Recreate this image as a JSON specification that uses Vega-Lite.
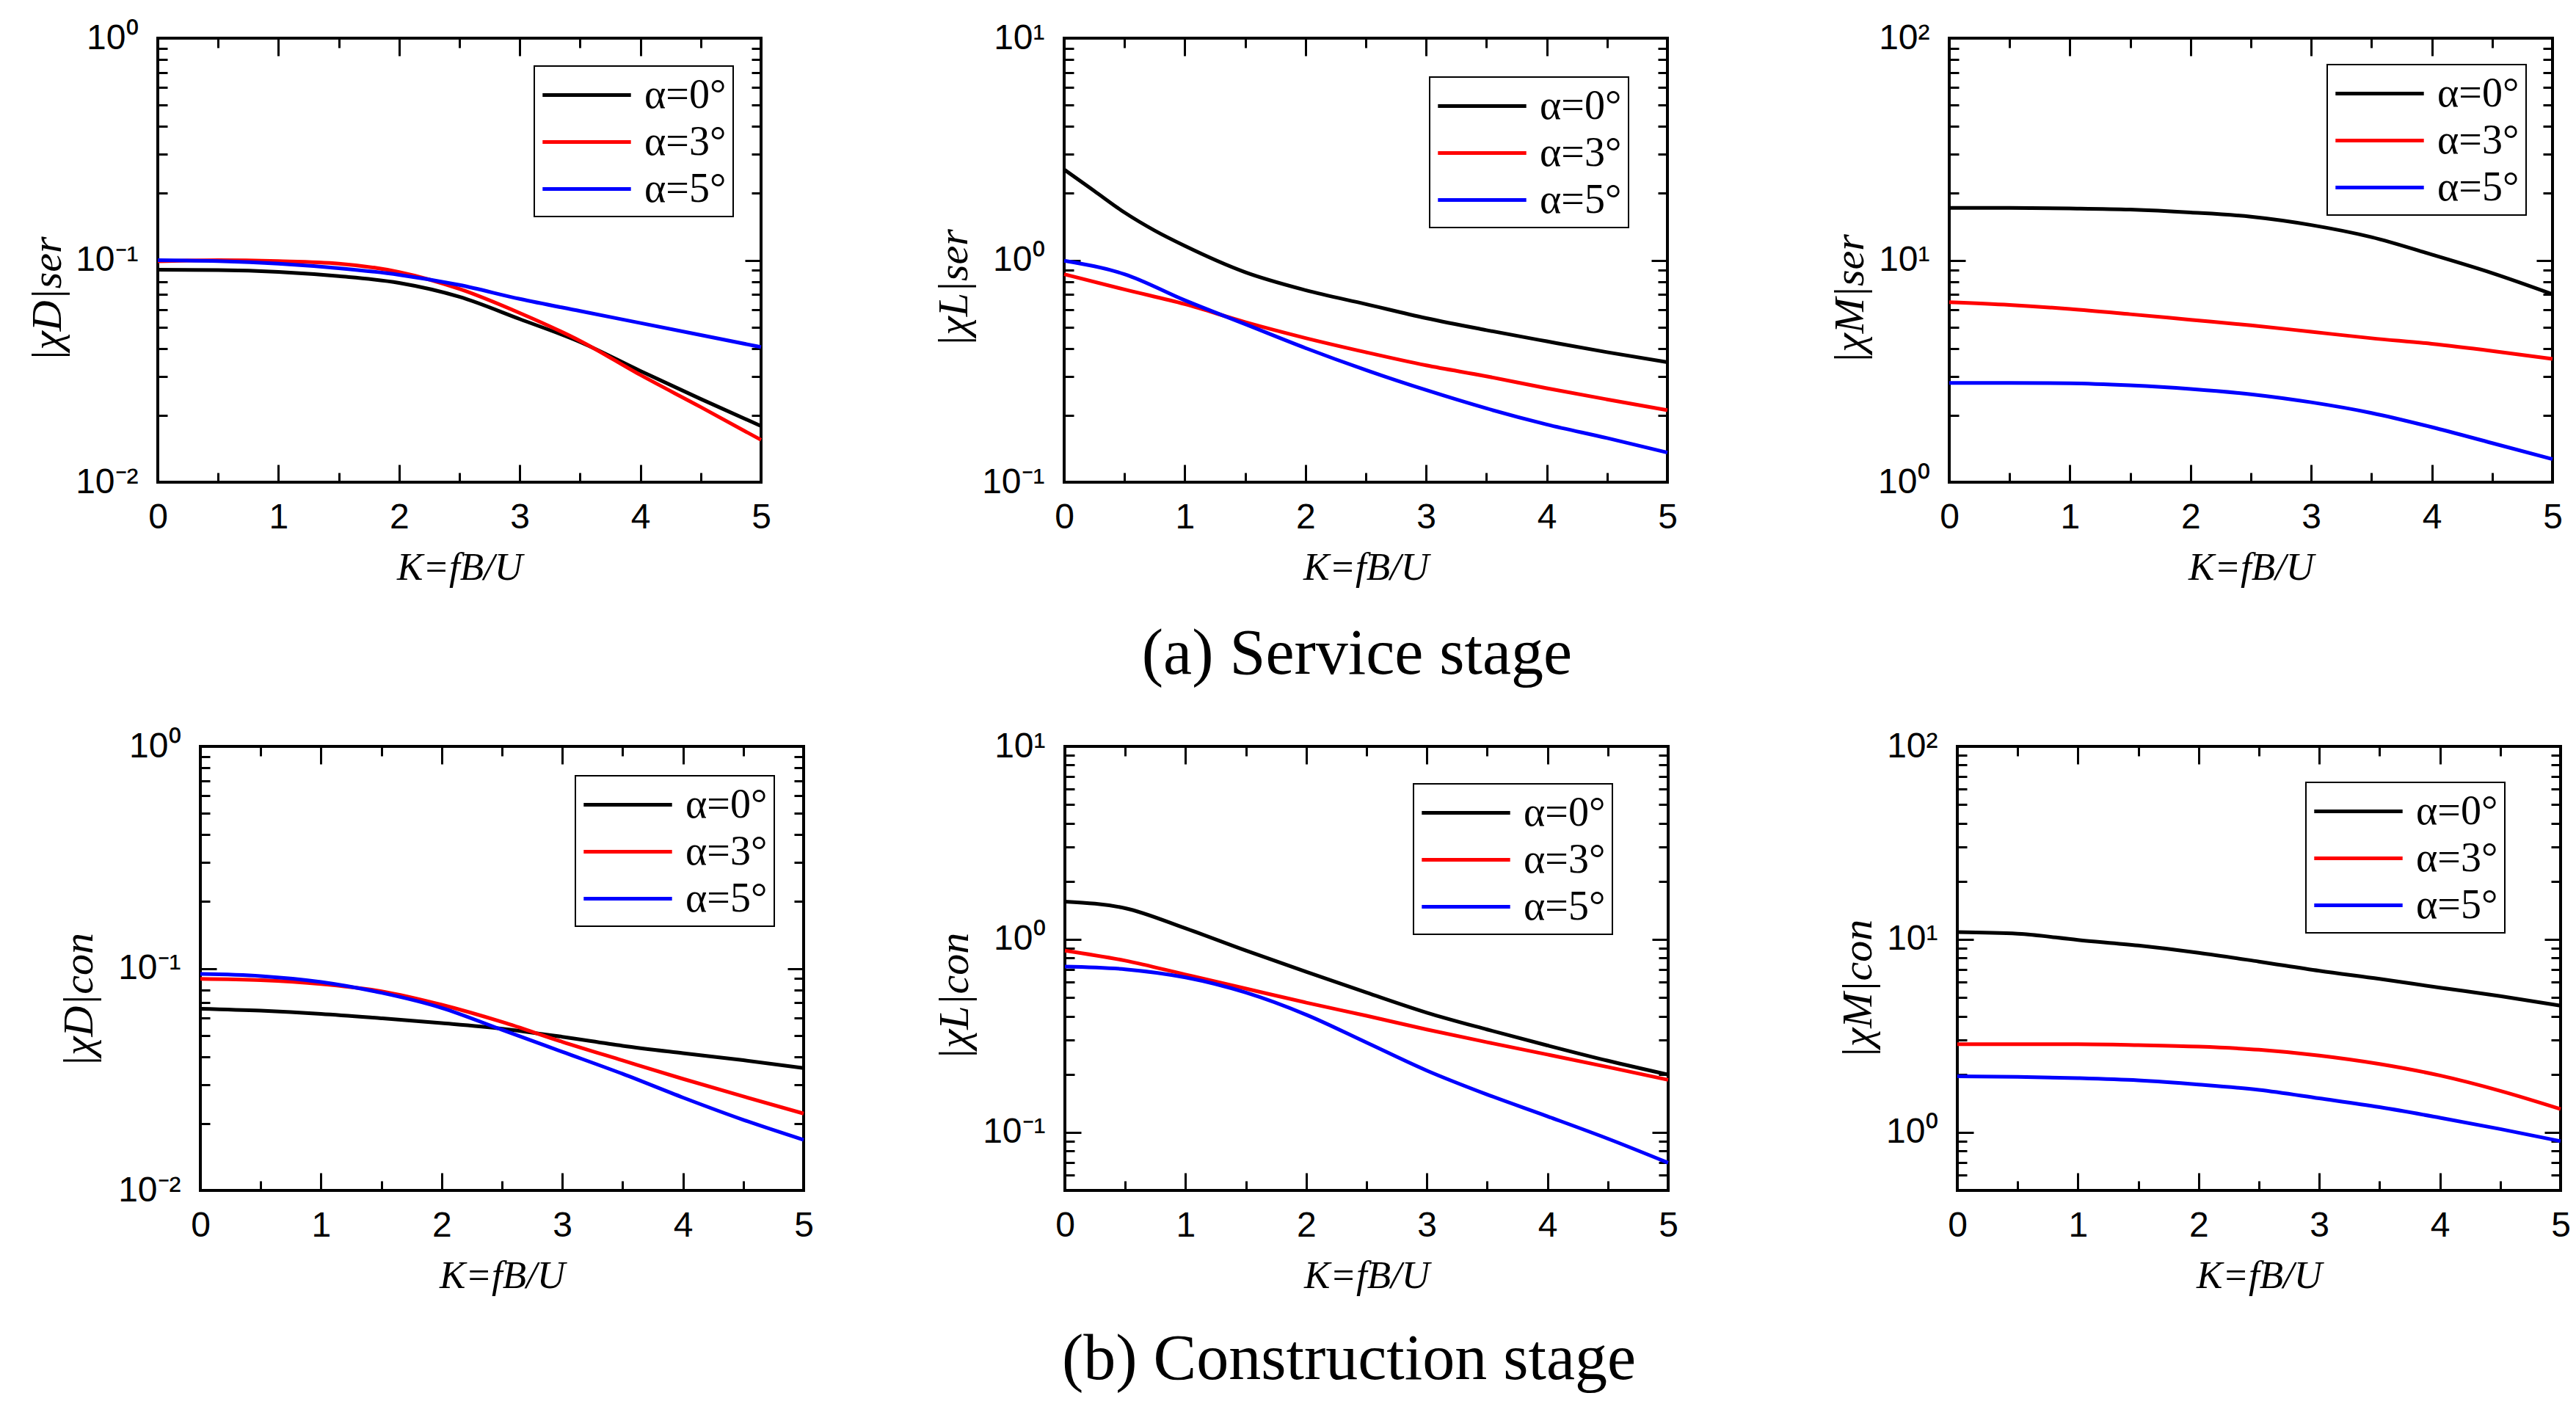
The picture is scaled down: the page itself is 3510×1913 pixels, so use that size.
{
  "$schema": "https://vega.github.io/schema/vega-lite/v6.json",
  "background": "white",
  "padding": {"left": 34, "top": 26, "right": 5, "bottom": 5},
  "datasets": {
    "curves": [
      {"p": "Dser", "a": "α=0°", "K": 0, "v": 0.0906}, {"p": "Dser", "a": "α=0°", "K": 0.5, "v": 0.0903}, {"p": "Dser", "a": "α=0°", "K": 1, "v": 0.0886}, {"p": "Dser", "a": "α=0°", "K": 1.5, "v": 0.0847}, {"p": "Dser", "a": "α=0°", "K": 2, "v": 0.079}, {"p": "Dser", "a": "α=0°", "K": 2.5, "v": 0.0684}, {"p": "Dser", "a": "α=0°", "K": 3, "v": 0.0543}, {"p": "Dser", "a": "α=0°", "K": 3.5, "v": 0.0428}, {"p": "Dser", "a": "α=0°", "K": 4, "v": 0.0317}, {"p": "Dser", "a": "α=0°", "K": 4.5, "v": 0.0237}, {"p": "Dser", "a": "α=0°", "K": 5, "v": 0.0179},
      {"p": "Dser", "a": "α=3°", "K": 0, "v": 0.0988}, {"p": "Dser", "a": "α=3°", "K": 0.5, "v": 0.1}, {"p": "Dser", "a": "α=3°", "K": 1, "v": 0.099}, {"p": "Dser", "a": "α=3°", "K": 1.5, "v": 0.0965}, {"p": "Dser", "a": "α=3°", "K": 2, "v": 0.0884}, {"p": "Dser", "a": "α=3°", "K": 2.5, "v": 0.0742}, {"p": "Dser", "a": "α=3°", "K": 3, "v": 0.0578}, {"p": "Dser", "a": "α=3°", "K": 3.5, "v": 0.0433}, {"p": "Dser", "a": "α=3°", "K": 4, "v": 0.0304}, {"p": "Dser", "a": "α=3°", "K": 4.5, "v": 0.0218}, {"p": "Dser", "a": "α=3°", "K": 5, "v": 0.0155},
      {"p": "Dser", "a": "α=5°", "K": 0, "v": 0.1}, {"p": "Dser", "a": "α=5°", "K": 0.5, "v": 0.0991}, {"p": "Dser", "a": "α=5°", "K": 1, "v": 0.0965}, {"p": "Dser", "a": "α=5°", "K": 1.5, "v": 0.092}, {"p": "Dser", "a": "α=5°", "K": 2, "v": 0.0859}, {"p": "Dser", "a": "α=5°", "K": 2.5, "v": 0.0773}, {"p": "Dser", "a": "α=5°", "K": 3, "v": 0.0669}, {"p": "Dser", "a": "α=5°", "K": 3.5, "v": 0.059}, {"p": "Dser", "a": "α=5°", "K": 4, "v": 0.0521}, {"p": "Dser", "a": "α=5°", "K": 4.5, "v": 0.046}, {"p": "Dser", "a": "α=5°", "K": 5, "v": 0.0406},

      {"p": "Lser", "a": "α=0°", "K": 0, "v": 2.56}, {"p": "Lser", "a": "α=0°", "K": 0.25, "v": 2.05}, {"p": "Lser", "a": "α=0°", "K": 0.5, "v": 1.64}, {"p": "Lser", "a": "α=0°", "K": 0.75, "v": 1.36}, {"p": "Lser", "a": "α=0°", "K": 1, "v": 1.16}, {"p": "Lser", "a": "α=0°", "K": 1.5, "v": 0.883}, {"p": "Lser", "a": "α=0°", "K": 2, "v": 0.733}, {"p": "Lser", "a": "α=0°", "K": 2.5, "v": 0.634}, {"p": "Lser", "a": "α=0°", "K": 3, "v": 0.548}, {"p": "Lser", "a": "α=0°", "K": 3.5, "v": 0.484}, {"p": "Lser", "a": "α=0°", "K": 4, "v": 0.431}, {"p": "Lser", "a": "α=0°", "K": 4.5, "v": 0.385}, {"p": "Lser", "a": "α=0°", "K": 5, "v": 0.347},
      {"p": "Lser", "a": "α=3°", "K": 0, "v": 0.865}, {"p": "Lser", "a": "α=3°", "K": 0.5, "v": 0.738}, {"p": "Lser", "a": "α=3°", "K": 1, "v": 0.634}, {"p": "Lser", "a": "α=3°", "K": 1.5, "v": 0.526}, {"p": "Lser", "a": "α=3°", "K": 2, "v": 0.446}, {"p": "Lser", "a": "α=3°", "K": 2.5, "v": 0.385}, {"p": "Lser", "a": "α=3°", "K": 3, "v": 0.336}, {"p": "Lser", "a": "α=3°", "K": 3.5, "v": 0.3}, {"p": "Lser", "a": "α=3°", "K": 4, "v": 0.265}, {"p": "Lser", "a": "α=3°", "K": 4.5, "v": 0.236}, {"p": "Lser", "a": "α=3°", "K": 5, "v": 0.211},
      {"p": "Lser", "a": "α=5°", "K": 0, "v": 0.994}, {"p": "Lser", "a": "α=5°", "K": 0.5, "v": 0.865}, {"p": "Lser", "a": "α=5°", "K": 1, "v": 0.66}, {"p": "Lser", "a": "α=5°", "K": 1.5, "v": 0.515}, {"p": "Lser", "a": "α=5°", "K": 2, "v": 0.402}, {"p": "Lser", "a": "α=5°", "K": 2.5, "v": 0.32}, {"p": "Lser", "a": "α=5°", "K": 3, "v": 0.26}, {"p": "Lser", "a": "α=5°", "K": 3.5, "v": 0.215}, {"p": "Lser", "a": "α=5°", "K": 4, "v": 0.182}, {"p": "Lser", "a": "α=5°", "K": 4.5, "v": 0.158}, {"p": "Lser", "a": "α=5°", "K": 5, "v": 0.136},

      {"p": "Mser", "a": "α=0°", "K": 0, "v": 17.2}, {"p": "Mser", "a": "α=0°", "K": 0.5, "v": 17.2}, {"p": "Mser", "a": "α=0°", "K": 1, "v": 17.1}, {"p": "Mser", "a": "α=0°", "K": 1.5, "v": 16.9}, {"p": "Mser", "a": "α=0°", "K": 2, "v": 16.4}, {"p": "Mser", "a": "α=0°", "K": 2.5, "v": 15.7}, {"p": "Mser", "a": "α=0°", "K": 3, "v": 14.4}, {"p": "Mser", "a": "α=0°", "K": 3.5, "v": 12.7}, {"p": "Mser", "a": "α=0°", "K": 4, "v": 10.6}, {"p": "Mser", "a": "α=0°", "K": 4.5, "v": 8.75}, {"p": "Mser", "a": "α=0°", "K": 5, "v": 7.03},
      {"p": "Mser", "a": "α=3°", "K": 0, "v": 6.47}, {"p": "Mser", "a": "α=3°", "K": 0.5, "v": 6.29}, {"p": "Mser", "a": "α=3°", "K": 1, "v": 6.03}, {"p": "Mser", "a": "α=3°", "K": 1.5, "v": 5.71}, {"p": "Mser", "a": "α=3°", "K": 2, "v": 5.39}, {"p": "Mser", "a": "α=3°", "K": 2.5, "v": 5.09}, {"p": "Mser", "a": "α=3°", "K": 3, "v": 4.76}, {"p": "Mser", "a": "α=3°", "K": 3.5, "v": 4.45}, {"p": "Mser", "a": "α=3°", "K": 4, "v": 4.2}, {"p": "Mser", "a": "α=3°", "K": 4.5, "v": 3.9}, {"p": "Mser", "a": "α=3°", "K": 5, "v": 3.59},
      {"p": "Mser", "a": "α=5°", "K": 0, "v": 2.8}, {"p": "Mser", "a": "α=5°", "K": 0.5, "v": 2.8}, {"p": "Mser", "a": "α=5°", "K": 1, "v": 2.79}, {"p": "Mser", "a": "α=5°", "K": 1.5, "v": 2.73}, {"p": "Mser", "a": "α=5°", "K": 2, "v": 2.63}, {"p": "Mser", "a": "α=5°", "K": 2.5, "v": 2.49}, {"p": "Mser", "a": "α=5°", "K": 3, "v": 2.29}, {"p": "Mser", "a": "α=5°", "K": 3.5, "v": 2.05}, {"p": "Mser", "a": "α=5°", "K": 4, "v": 1.77}, {"p": "Mser", "a": "α=5°", "K": 4.5, "v": 1.5}, {"p": "Mser", "a": "α=5°", "K": 5, "v": 1.27},

      {"p": "Dcon", "a": "α=0°", "K": 0, "v": 0.0658}, {"p": "Dcon", "a": "α=0°", "K": 0.5, "v": 0.0645}, {"p": "Dcon", "a": "α=0°", "K": 1, "v": 0.0624}, {"p": "Dcon", "a": "α=0°", "K": 1.5, "v": 0.0596}, {"p": "Dcon", "a": "α=0°", "K": 2, "v": 0.0567}, {"p": "Dcon", "a": "α=0°", "K": 2.5, "v": 0.0535}, {"p": "Dcon", "a": "α=0°", "K": 3, "v": 0.0492}, {"p": "Dcon", "a": "α=0°", "K": 3.5, "v": 0.0448}, {"p": "Dcon", "a": "α=0°", "K": 4, "v": 0.0415}, {"p": "Dcon", "a": "α=0°", "K": 4.5, "v": 0.0386}, {"p": "Dcon", "a": "α=0°", "K": 5, "v": 0.0356},
      {"p": "Dcon", "a": "α=3°", "K": 0, "v": 0.0898}, {"p": "Dcon", "a": "α=3°", "K": 0.5, "v": 0.0886}, {"p": "Dcon", "a": "α=3°", "K": 1, "v": 0.0851}, {"p": "Dcon", "a": "α=3°", "K": 1.5, "v": 0.0789}, {"p": "Dcon", "a": "α=3°", "K": 2, "v": 0.0686}, {"p": "Dcon", "a": "α=3°", "K": 2.5, "v": 0.0574}, {"p": "Dcon", "a": "α=3°", "K": 3, "v": 0.0467}, {"p": "Dcon", "a": "α=3°", "K": 3.5, "v": 0.0385}, {"p": "Dcon", "a": "α=3°", "K": 4, "v": 0.0318}, {"p": "Dcon", "a": "α=3°", "K": 4.5, "v": 0.0265}, {"p": "Dcon", "a": "α=3°", "K": 5, "v": 0.0222},
      {"p": "Dcon", "a": "α=5°", "K": 0, "v": 0.0944}, {"p": "Dcon", "a": "α=5°", "K": 0.5, "v": 0.0924}, {"p": "Dcon", "a": "α=5°", "K": 1, "v": 0.0869}, {"p": "Dcon", "a": "α=5°", "K": 1.5, "v": 0.0777}, {"p": "Dcon", "a": "α=5°", "K": 2, "v": 0.0664}, {"p": "Dcon", "a": "α=5°", "K": 2.5, "v": 0.0529}, {"p": "Dcon", "a": "α=5°", "K": 3, "v": 0.0421}, {"p": "Dcon", "a": "α=5°", "K": 3.5, "v": 0.0335}, {"p": "Dcon", "a": "α=5°", "K": 4, "v": 0.0262}, {"p": "Dcon", "a": "α=5°", "K": 4.5, "v": 0.0208}, {"p": "Dcon", "a": "α=5°", "K": 5, "v": 0.0169},

      {"p": "Lcon", "a": "α=0°", "K": 0, "v": 1.57}, {"p": "Lcon", "a": "α=0°", "K": 0.5, "v": 1.45}, {"p": "Lcon", "a": "α=0°", "K": 1, "v": 1.14}, {"p": "Lcon", "a": "α=0°", "K": 1.5, "v": 0.875}, {"p": "Lcon", "a": "α=0°", "K": 2, "v": 0.679}, {"p": "Lcon", "a": "α=0°", "K": 2.5, "v": 0.53}, {"p": "Lcon", "a": "α=0°", "K": 3, "v": 0.417}, {"p": "Lcon", "a": "α=0°", "K": 3.5, "v": 0.341}, {"p": "Lcon", "a": "α=0°", "K": 4, "v": 0.282}, {"p": "Lcon", "a": "α=0°", "K": 4.5, "v": 0.235}, {"p": "Lcon", "a": "α=0°", "K": 5, "v": 0.199},
      {"p": "Lcon", "a": "α=3°", "K": 0, "v": 0.875}, {"p": "Lcon", "a": "α=3°", "K": 0.5, "v": 0.776}, {"p": "Lcon", "a": "α=3°", "K": 1, "v": 0.657}, {"p": "Lcon", "a": "α=3°", "K": 1.5, "v": 0.556}, {"p": "Lcon", "a": "α=3°", "K": 2, "v": 0.47}, {"p": "Lcon", "a": "α=3°", "K": 2.5, "v": 0.402}, {"p": "Lcon", "a": "α=3°", "K": 3, "v": 0.341}, {"p": "Lcon", "a": "α=3°", "K": 3.5, "v": 0.293}, {"p": "Lcon", "a": "α=3°", "K": 4, "v": 0.253}, {"p": "Lcon", "a": "α=3°", "K": 4.5, "v": 0.218}, {"p": "Lcon", "a": "α=3°", "K": 5, "v": 0.187},
      {"p": "Lcon", "a": "α=5°", "K": 0, "v": 0.723}, {"p": "Lcon", "a": "α=5°", "K": 0.5, "v": 0.7}, {"p": "Lcon", "a": "α=5°", "K": 1, "v": 0.635}, {"p": "Lcon", "a": "α=5°", "K": 1.5, "v": 0.53}, {"p": "Lcon", "a": "α=5°", "K": 2, "v": 0.407}, {"p": "Lcon", "a": "α=5°", "K": 2.5, "v": 0.292}, {"p": "Lcon", "a": "α=5°", "K": 3, "v": 0.209}, {"p": "Lcon", "a": "α=5°", "K": 3.5, "v": 0.157}, {"p": "Lcon", "a": "α=5°", "K": 4, "v": 0.121}, {"p": "Lcon", "a": "α=5°", "K": 4.5, "v": 0.0927}, {"p": "Lcon", "a": "α=5°", "K": 5, "v": 0.0695},

      {"p": "Mcon", "a": "α=0°", "K": 0, "v": 10.9}, {"p": "Mcon", "a": "α=0°", "K": 0.5, "v": 10.7}, {"p": "Mcon", "a": "α=0°", "K": 1, "v": 9.93}, {"p": "Mcon", "a": "α=0°", "K": 1.5, "v": 9.29}, {"p": "Mcon", "a": "α=0°", "K": 2, "v": 8.52}, {"p": "Mcon", "a": "α=0°", "K": 2.5, "v": 7.67}, {"p": "Mcon", "a": "α=0°", "K": 3, "v": 6.87}, {"p": "Mcon", "a": "α=0°", "K": 3.5, "v": 6.24}, {"p": "Mcon", "a": "α=0°", "K": 4, "v": 5.62}, {"p": "Mcon", "a": "α=0°", "K": 4.5, "v": 5.08}, {"p": "Mcon", "a": "α=0°", "K": 5, "v": 4.53},
      {"p": "Mcon", "a": "α=3°", "K": 0, "v": 2.86}, {"p": "Mcon", "a": "α=3°", "K": 0.5, "v": 2.86}, {"p": "Mcon", "a": "α=3°", "K": 1, "v": 2.86}, {"p": "Mcon", "a": "α=3°", "K": 1.5, "v": 2.83}, {"p": "Mcon", "a": "α=3°", "K": 2, "v": 2.78}, {"p": "Mcon", "a": "α=3°", "K": 2.5, "v": 2.68}, {"p": "Mcon", "a": "α=3°", "K": 3, "v": 2.5}, {"p": "Mcon", "a": "α=3°", "K": 3.5, "v": 2.26}, {"p": "Mcon", "a": "α=3°", "K": 4, "v": 1.97}, {"p": "Mcon", "a": "α=3°", "K": 4.5, "v": 1.64}, {"p": "Mcon", "a": "α=3°", "K": 5, "v": 1.32},
      {"p": "Mcon", "a": "α=5°", "K": 0, "v": 1.95}, {"p": "Mcon", "a": "α=5°", "K": 0.5, "v": 1.94}, {"p": "Mcon", "a": "α=5°", "K": 1, "v": 1.91}, {"p": "Mcon", "a": "α=5°", "K": 1.5, "v": 1.86}, {"p": "Mcon", "a": "α=5°", "K": 2, "v": 1.77}, {"p": "Mcon", "a": "α=5°", "K": 2.5, "v": 1.66}, {"p": "Mcon", "a": "α=5°", "K": 3, "v": 1.5}, {"p": "Mcon", "a": "α=5°", "K": 3.5, "v": 1.35}, {"p": "Mcon", "a": "α=5°", "K": 4, "v": 1.19}, {"p": "Mcon", "a": "α=5°", "K": 4.5, "v": 1.04}, {"p": "Mcon", "a": "α=5°", "K": 5, "v": 0.9}
    ]
  },
  "data": {"name": "curves"},
  "spacing": 55,
  "vconcat": [
    {
      "title": {"text": "(a) Service stage", "orient": "bottom", "anchor": "middle", "offset": 46, "dx": 85},
      "bounds": "flush",
      "spacing": 413,
      "hconcat": [
        {
          "width": 822, "height": 605,
          "transform": [{"filter": "datum.p == 'Dser'"}],
          "layer": [
            {"mark": {"type": "line", "strokeWidth": 5, "interpolate": "monotone"},
             "encoding": {
               "x": {"field": "K", "type": "quantitative", "scale": {"domain": [0, 5], "nice": false, "zero": false}, "axis": {"orient": "bottom", "values": [0, 1, 2, 3, 4, 5], "tickSize": -24, "labelPadding": 48, "title": "K=fB/U", "titlePadding": 18}},
               "y": {"field": "v", "type": "quantitative", "scale": {"type": "log", "domain": [0.01, 1], "nice": false}, "axis": {"orient": "left", "values": [0.01, 0.1, 1], "tickSize": -22, "labelPadding": 49, "labelExpr": "datum.value < 0.05 ? '10⁻²' : datum.value < 0.5 ? '10⁻¹' : datum.value < 5 ? '10⁰' : datum.value < 50 ? '10¹' : '10²'", "title": "|χD|ser", "titlePadding": 8, "titleY": 355}},
               "color": {"field": "a", "type": "nominal", "scale": {"domain": ["α=0°", "α=3°", "α=5°"], "range": ["#000000", "#ff0000", "#0000ff"]}, "legend": {"title": null, "orient": "top-right", "offset": 38}}
             }},
            {"mark": {"type": "point", "opacity": 0},
             "encoding": {
               "x": {"field": "K", "type": "quantitative", "scale": {"domain": [0, 5], "nice": false, "zero": false}, "axis": {"orient": "top", "values": [0, 1, 2, 3, 4, 5], "tickSize": -24, "labels": false, "title": null}},
               "y": {"field": "v", "type": "quantitative", "scale": {"type": "log", "domain": [0.01, 1], "nice": false}, "axis": {"orient": "right", "values": [0.01, 0.1, 1], "tickSize": -22, "labels": false, "title": null}}
             }},
            {"mark": {"type": "point", "opacity": 0},
             "encoding": {
               "x": {"field": "K", "type": "quantitative", "scale": {"domain": [0, 5], "nice": false, "zero": false}, "axis": {"orient": "bottom", "values": [0.5, 1.5, 2.5, 3.5, 4.5], "tickSize": -13, "labels": false, "title": null}},
               "y": {"field": "v", "type": "quantitative", "scale": {"type": "log", "domain": [0.01, 1], "nice": false}, "axis": {"orient": "left", "values": [0.02, 0.03, 0.04, 0.05, 0.06, 0.07, 0.08, 0.09, 0.2, 0.3, 0.4, 0.5, 0.6, 0.7, 0.8, 0.9], "tickSize": -13, "labels": false, "title": null}}
             }},
            {"mark": {"type": "point", "opacity": 0},
             "encoding": {
               "x": {"field": "K", "type": "quantitative", "scale": {"domain": [0, 5], "nice": false, "zero": false}, "axis": {"orient": "top", "values": [0.5, 1.5, 2.5, 3.5, 4.5], "tickSize": -13, "labels": false, "title": null}},
               "y": {"field": "v", "type": "quantitative", "scale": {"type": "log", "domain": [0.01, 1], "nice": false}, "axis": {"orient": "right", "values": [0.02, 0.03, 0.04, 0.05, 0.06, 0.07, 0.08, 0.09, 0.2, 0.3, 0.4, 0.5, 0.6, 0.7, 0.8, 0.9], "tickSize": -13, "labels": false, "title": null}}
             }}
          ],
          "resolve": {"axis": {"x": "independent", "y": "independent"}}
        },
        {
          "bounds": "flush",
          "spacing": 384,
          "hconcat": [
            {
              "width": 822, "height": 605,
              "transform": [{"filter": "datum.p == 'Lser'"}],
              "layer": [
                {"mark": {"type": "line", "strokeWidth": 5, "interpolate": "monotone"},
                 "encoding": {
                   "x": {"field": "K", "type": "quantitative", "scale": {"domain": [0, 5], "nice": false, "zero": false}, "axis": {"orient": "bottom", "values": [0, 1, 2, 3, 4, 5], "tickSize": -24, "labelPadding": 48, "title": "K=fB/U", "titlePadding": 18}},
                   "y": {"field": "v", "type": "quantitative", "scale": {"type": "log", "domain": [0.1, 10], "nice": false}, "axis": {"orient": "left", "values": [0.1, 1, 10], "tickSize": -22, "labelPadding": 49, "labelExpr": "datum.value < 0.05 ? '10⁻²' : datum.value < 0.5 ? '10⁻¹' : datum.value < 5 ? '10⁰' : datum.value < 50 ? '10¹' : '10²'", "title": "|χL|ser", "titlePadding": 8, "titleY": 340}},
                   "color": {"field": "a", "type": "nominal", "scale": {"domain": ["α=0°", "α=3°", "α=5°"], "range": ["#000000", "#ff0000", "#0000ff"]}, "legend": {"title": null, "orient": "top-right", "offset": 53}}
                 }},
                {"mark": {"type": "point", "opacity": 0},
                 "encoding": {
                   "x": {"field": "K", "type": "quantitative", "scale": {"domain": [0, 5], "nice": false, "zero": false}, "axis": {"orient": "top", "values": [0, 1, 2, 3, 4, 5], "tickSize": -24, "labels": false, "title": null}},
                   "y": {"field": "v", "type": "quantitative", "scale": {"type": "log", "domain": [0.1, 10], "nice": false}, "axis": {"orient": "right", "values": [0.1, 1, 10], "tickSize": -22, "labels": false, "title": null}}
                 }},
                {"mark": {"type": "point", "opacity": 0},
                 "encoding": {
                   "x": {"field": "K", "type": "quantitative", "scale": {"domain": [0, 5], "nice": false, "zero": false}, "axis": {"orient": "bottom", "values": [0.5, 1.5, 2.5, 3.5, 4.5], "tickSize": -13, "labels": false, "title": null}},
                   "y": {"field": "v", "type": "quantitative", "scale": {"type": "log", "domain": [0.1, 10], "nice": false}, "axis": {"orient": "left", "values": [0.2, 0.3, 0.4, 0.5, 0.6, 0.7, 0.8, 0.9, 2, 3, 4, 5, 6, 7, 8, 9], "tickSize": -13, "labels": false, "title": null}}
                 }},
                {"mark": {"type": "point", "opacity": 0},
                 "encoding": {
                   "x": {"field": "K", "type": "quantitative", "scale": {"domain": [0, 5], "nice": false, "zero": false}, "axis": {"orient": "top", "values": [0.5, 1.5, 2.5, 3.5, 4.5], "tickSize": -13, "labels": false, "title": null}},
                   "y": {"field": "v", "type": "quantitative", "scale": {"type": "log", "domain": [0.1, 10], "nice": false}, "axis": {"orient": "right", "values": [0.2, 0.3, 0.4, 0.5, 0.6, 0.7, 0.8, 0.9, 2, 3, 4, 5, 6, 7, 8, 9], "tickSize": -13, "labels": false, "title": null}}
                 }}
              ],
              "resolve": {"axis": {"x": "independent", "y": "independent"}}
            },
            {
              "width": 822, "height": 605,
              "transform": [{"filter": "datum.p == 'Mser'"}],
              "layer": [
                {"mark": {"type": "line", "strokeWidth": 5, "interpolate": "monotone"},
                 "encoding": {
                   "x": {"field": "K", "type": "quantitative", "scale": {"domain": [0, 5], "nice": false, "zero": false}, "axis": {"orient": "bottom", "values": [0, 1, 2, 3, 4, 5], "tickSize": -24, "labelPadding": 48, "title": "K=fB/U", "titlePadding": 18}},
                   "y": {"field": "v", "type": "quantitative", "scale": {"type": "log", "domain": [1, 100], "nice": false}, "axis": {"orient": "left", "values": [1, 10, 100], "tickSize": -22, "labelPadding": 49, "labelExpr": "datum.value < 0.05 ? '10⁻²' : datum.value < 0.5 ? '10⁻¹' : datum.value < 5 ? '10⁰' : datum.value < 50 ? '10¹' : '10²'", "title": "|χM|ser", "titlePadding": 8, "titleY": 355}},
                   "color": {"field": "a", "type": "nominal", "scale": {"domain": ["α=0°", "α=3°", "α=5°"], "range": ["#000000", "#ff0000", "#0000ff"]}, "legend": {"title": null, "orient": "top-right", "offset": 36}}
                 }},
                {"mark": {"type": "point", "opacity": 0},
                 "encoding": {
                   "x": {"field": "K", "type": "quantitative", "scale": {"domain": [0, 5], "nice": false, "zero": false}, "axis": {"orient": "top", "values": [0, 1, 2, 3, 4, 5], "tickSize": -24, "labels": false, "title": null}},
                   "y": {"field": "v", "type": "quantitative", "scale": {"type": "log", "domain": [1, 100], "nice": false}, "axis": {"orient": "right", "values": [1, 10, 100], "tickSize": -22, "labels": false, "title": null}}
                 }},
                {"mark": {"type": "point", "opacity": 0},
                 "encoding": {
                   "x": {"field": "K", "type": "quantitative", "scale": {"domain": [0, 5], "nice": false, "zero": false}, "axis": {"orient": "bottom", "values": [0.5, 1.5, 2.5, 3.5, 4.5], "tickSize": -13, "labels": false, "title": null}},
                   "y": {"field": "v", "type": "quantitative", "scale": {"type": "log", "domain": [1, 100], "nice": false}, "axis": {"orient": "left", "values": [2, 3, 4, 5, 6, 7, 8, 9, 20, 30, 40, 50, 60, 70, 80, 90], "tickSize": -13, "labels": false, "title": null}}
                 }},
                {"mark": {"type": "point", "opacity": 0},
                 "encoding": {
                   "x": {"field": "K", "type": "quantitative", "scale": {"domain": [0, 5], "nice": false, "zero": false}, "axis": {"orient": "top", "values": [0.5, 1.5, 2.5, 3.5, 4.5], "tickSize": -13, "labels": false, "title": null}},
                   "y": {"field": "v", "type": "quantitative", "scale": {"type": "log", "domain": [1, 100], "nice": false}, "axis": {"orient": "right", "values": [2, 3, 4, 5, 6, 7, 8, 9, 20, 30, 40, 50, 60, 70, 80, 90], "tickSize": -13, "labels": false, "title": null}}
                 }}
              ],
              "resolve": {"axis": {"x": "independent", "y": "independent"}}
            }
          ],
          "resolve": {"scale": {"color": "independent"}, "legend": {"color": "independent"}}
        }
      ],
      "resolve": {"scale": {"color": "independent"}, "legend": {"color": "independent"}}
    },
    {
      "title": {"text": "(b) Construction stage", "orient": "bottom", "anchor": "middle", "offset": 42, "dx": 47},
      "bounds": "flush",
      "spacing": 0,
      "hconcat": [
        {
          "width": 58, "height": 605,
          "data": {"values": [{"s": 0}]},
          "mark": {"type": "point", "opacity": 0},
          "view": {"stroke": null}
        },
        {
          "bounds": "flush",
          "spacing": 356,
          "hconcat": [
            {
              "width": 822, "height": 605,
              "transform": [{"filter": "datum.p == 'Dcon'"}],
              "layer": [
                {"mark": {"type": "line", "strokeWidth": 5, "interpolate": "monotone"},
                 "encoding": {
                   "x": {"field": "K", "type": "quantitative", "scale": {"domain": [0, 5], "nice": false, "zero": false}, "axis": {"orient": "bottom", "values": [0, 1, 2, 3, 4, 5], "tickSize": -24, "labelPadding": 48, "title": "K=fB/U", "titlePadding": 18}},
                   "y": {"field": "v", "type": "quantitative", "scale": {"type": "log", "domain": [0.01, 1], "nice": false}, "axis": {"orient": "left", "values": [0.01, 0.1, 1], "tickSize": -22, "labelPadding": 49, "labelExpr": "datum.value < 0.05 ? '10⁻²' : datum.value < 0.5 ? '10⁻¹' : datum.value < 5 ? '10⁰' : datum.value < 50 ? '10¹' : '10²'", "title": "|χD|con", "titlePadding": 23, "titleY": 345}},
                   "color": {"field": "a", "type": "nominal", "scale": {"domain": ["α=0°", "α=3°", "α=5°"], "range": ["#000000", "#ff0000", "#0000ff"]}, "legend": {"title": null, "orient": "top-right", "offset": 40}}
                 }},
                {"mark": {"type": "point", "opacity": 0},
                 "encoding": {
                   "x": {"field": "K", "type": "quantitative", "scale": {"domain": [0, 5], "nice": false, "zero": false}, "axis": {"orient": "top", "values": [0, 1, 2, 3, 4, 5], "tickSize": -24, "labels": false, "title": null}},
                   "y": {"field": "v", "type": "quantitative", "scale": {"type": "log", "domain": [0.01, 1], "nice": false}, "axis": {"orient": "right", "values": [0.01, 0.1, 1], "tickSize": -22, "labels": false, "title": null}}
                 }},
                {"mark": {"type": "point", "opacity": 0},
                 "encoding": {
                   "x": {"field": "K", "type": "quantitative", "scale": {"domain": [0, 5], "nice": false, "zero": false}, "axis": {"orient": "bottom", "values": [0.5, 1.5, 2.5, 3.5, 4.5], "tickSize": -13, "labels": false, "title": null}},
                   "y": {"field": "v", "type": "quantitative", "scale": {"type": "log", "domain": [0.01, 1], "nice": false}, "axis": {"orient": "left", "values": [0.02, 0.03, 0.04, 0.05, 0.06, 0.07, 0.08, 0.09, 0.2, 0.3, 0.4, 0.5, 0.6, 0.7, 0.8, 0.9], "tickSize": -13, "labels": false, "title": null}}
                 }},
                {"mark": {"type": "point", "opacity": 0},
                 "encoding": {
                   "x": {"field": "K", "type": "quantitative", "scale": {"domain": [0, 5], "nice": false, "zero": false}, "axis": {"orient": "top", "values": [0.5, 1.5, 2.5, 3.5, 4.5], "tickSize": -13, "labels": false, "title": null}},
                   "y": {"field": "v", "type": "quantitative", "scale": {"type": "log", "domain": [0.01, 1], "nice": false}, "axis": {"orient": "right", "values": [0.02, 0.03, 0.04, 0.05, 0.06, 0.07, 0.08, 0.09, 0.2, 0.3, 0.4, 0.5, 0.6, 0.7, 0.8, 0.9], "tickSize": -13, "labels": false, "title": null}}
                 }}
              ],
              "resolve": {"axis": {"x": "independent", "y": "independent"}}
            },
            {
              "bounds": "flush",
              "spacing": 394,
              "hconcat": [
                {
                  "width": 822, "height": 605,
                  "transform": [{"filter": "datum.p == 'Lcon'"}],
                  "layer": [
                    {"mark": {"type": "line", "strokeWidth": 5, "interpolate": "monotone"},
                     "encoding": {
                       "x": {"field": "K", "type": "quantitative", "scale": {"domain": [0, 5], "nice": false, "zero": false}, "axis": {"orient": "bottom", "values": [0, 1, 2, 3, 4, 5], "tickSize": -24, "labelPadding": 48, "title": "K=fB/U", "titlePadding": 18}},
                       "y": {"field": "v", "type": "quantitative", "scale": {"type": "log", "domain": [0.05, 10], "nice": false}, "axis": {"orient": "left", "values": [0.1, 1, 10], "tickSize": -22, "labelPadding": 49, "labelExpr": "datum.value < 0.05 ? '10⁻²' : datum.value < 0.5 ? '10⁻¹' : datum.value < 5 ? '10⁰' : datum.value < 50 ? '10¹' : '10²'", "title": "|χL|con", "titlePadding": 8, "titleY": 340}},
                       "color": {"field": "a", "type": "nominal", "scale": {"domain": ["α=0°", "α=3°", "α=5°"], "range": ["#000000", "#ff0000", "#0000ff"]}, "legend": {"title": null, "orient": "none", "legendX": 475, "legendY": 51}}
                     }},
                    {"mark": {"type": "point", "opacity": 0},
                     "encoding": {
                       "x": {"field": "K", "type": "quantitative", "scale": {"domain": [0, 5], "nice": false, "zero": false}, "axis": {"orient": "top", "values": [0, 1, 2, 3, 4, 5], "tickSize": -24, "labels": false, "title": null}},
                       "y": {"field": "v", "type": "quantitative", "scale": {"type": "log", "domain": [0.05, 10], "nice": false}, "axis": {"orient": "right", "values": [0.1, 1, 10], "tickSize": -22, "labels": false, "title": null}}
                     }},
                    {"mark": {"type": "point", "opacity": 0},
                     "encoding": {
                       "x": {"field": "K", "type": "quantitative", "scale": {"domain": [0, 5], "nice": false, "zero": false}, "axis": {"orient": "bottom", "values": [0.5, 1.5, 2.5, 3.5, 4.5], "tickSize": -13, "labels": false, "title": null}},
                       "y": {"field": "v", "type": "quantitative", "scale": {"type": "log", "domain": [0.05, 10], "nice": false}, "axis": {"orient": "left", "values": [0.05, 0.06, 0.07, 0.08, 0.09, 0.2, 0.3, 0.4, 0.5, 0.6, 0.7, 0.8, 0.9, 2, 3, 4, 5, 6, 7, 8, 9], "tickSize": -13, "labels": false, "title": null}}
                     }},
                    {"mark": {"type": "point", "opacity": 0},
                     "encoding": {
                       "x": {"field": "K", "type": "quantitative", "scale": {"domain": [0, 5], "nice": false, "zero": false}, "axis": {"orient": "top", "values": [0.5, 1.5, 2.5, 3.5, 4.5], "tickSize": -13, "labels": false, "title": null}},
                       "y": {"field": "v", "type": "quantitative", "scale": {"type": "log", "domain": [0.05, 10], "nice": false}, "axis": {"orient": "right", "values": [0.05, 0.06, 0.07, 0.08, 0.09, 0.2, 0.3, 0.4, 0.5, 0.6, 0.7, 0.8, 0.9, 2, 3, 4, 5, 6, 7, 8, 9], "tickSize": -13, "labels": false, "title": null}}
                     }}
                  ],
                  "resolve": {"axis": {"x": "independent", "y": "independent"}}
                },
                {
                  "width": 822, "height": 605,
                  "transform": [{"filter": "datum.p == 'Mcon'"}],
                  "layer": [
                    {"mark": {"type": "line", "strokeWidth": 5, "interpolate": "monotone"},
                     "encoding": {
                       "x": {"field": "K", "type": "quantitative", "scale": {"domain": [0, 5], "nice": false, "zero": false}, "axis": {"orient": "bottom", "values": [0, 1, 2, 3, 4, 5], "tickSize": -24, "labelPadding": 48, "title": "K=fB/U", "titlePadding": 18}},
                       "y": {"field": "v", "type": "quantitative", "scale": {"type": "log", "domain": [0.5, 100], "nice": false}, "axis": {"orient": "left", "values": [1, 10, 100], "tickSize": -22, "labelPadding": 49, "labelExpr": "datum.value < 0.05 ? '10⁻²' : datum.value < 0.5 ? '10⁻¹' : datum.value < 5 ? '10⁰' : datum.value < 50 ? '10¹' : '10²'", "title": "|χM|con", "titlePadding": 8, "titleY": 330}},
                       "color": {"field": "a", "type": "nominal", "scale": {"domain": ["α=0°", "α=3°", "α=5°"], "range": ["#000000", "#ff0000", "#0000ff"]}, "legend": {"title": null, "orient": "none", "legendX": 475, "legendY": 49}}
                     }},
                    {"mark": {"type": "point", "opacity": 0},
                     "encoding": {
                       "x": {"field": "K", "type": "quantitative", "scale": {"domain": [0, 5], "nice": false, "zero": false}, "axis": {"orient": "top", "values": [0, 1, 2, 3, 4, 5], "tickSize": -24, "labels": false, "title": null}},
                       "y": {"field": "v", "type": "quantitative", "scale": {"type": "log", "domain": [0.5, 100], "nice": false}, "axis": {"orient": "right", "values": [1, 10, 100], "tickSize": -22, "labels": false, "title": null}}
                     }},
                    {"mark": {"type": "point", "opacity": 0},
                     "encoding": {
                       "x": {"field": "K", "type": "quantitative", "scale": {"domain": [0, 5], "nice": false, "zero": false}, "axis": {"orient": "bottom", "values": [0.5, 1.5, 2.5, 3.5, 4.5], "tickSize": -13, "labels": false, "title": null}},
                       "y": {"field": "v", "type": "quantitative", "scale": {"type": "log", "domain": [0.5, 100], "nice": false}, "axis": {"orient": "left", "values": [0.5, 0.6, 0.7, 0.8, 0.9, 2, 3, 4, 5, 6, 7, 8, 9, 20, 30, 40, 50, 60, 70, 80, 90], "tickSize": -13, "labels": false, "title": null}}
                     }},
                    {"mark": {"type": "point", "opacity": 0},
                     "encoding": {
                       "x": {"field": "K", "type": "quantitative", "scale": {"domain": [0, 5], "nice": false, "zero": false}, "axis": {"orient": "top", "values": [0.5, 1.5, 2.5, 3.5, 4.5], "tickSize": -13, "labels": false, "title": null}},
                       "y": {"field": "v", "type": "quantitative", "scale": {"type": "log", "domain": [0.5, 100], "nice": false}, "axis": {"orient": "right", "values": [0.5, 0.6, 0.7, 0.8, 0.9, 2, 3, 4, 5, 6, 7, 8, 9, 20, 30, 40, 50, 60, 70, 80, 90], "tickSize": -13, "labels": false, "title": null}}
                     }}
                  ],
                  "resolve": {"axis": {"x": "independent", "y": "independent"}}
                }
              ],
              "resolve": {"scale": {"color": "independent"}, "legend": {"color": "independent"}}
            }
          ],
          "resolve": {"scale": {"color": "independent"}, "legend": {"color": "independent"}}
        }
      ],
      "resolve": {"scale": {"color": "independent"}, "legend": {"color": "independent"}}
    }
  ],
  "resolve": {"scale": {"color": "independent"}, "legend": {"color": "independent"}},
  "config": {
    "view": {"stroke": "#000000", "strokeWidth": 4},
    "axis": {
      "domain": false, "grid": false, "tickColor": "#000000", "tickWidth": 3,
      "labelFont": "Liberation Sans", "labelFontSize": 48, "labelColor": "#000000",
      "labelFlush": false, "labelOverlap": false,
      "titleFont": "Liberation Serif", "titleFontStyle": "italic", "titleFontWeight": "normal",
      "titleFontSize": 53, "titleColor": "#000000"
    },
    "axisY": {"titleFontSize": 58},
    "legend": {
      "symbolType": "M-2.15,0H2.15", "symbolSize": 3136, "symbolStrokeWidth": 5, "symbolOffset": 32,
      "labelFont": "Liberation Serif", "labelFontSize": 56, "labelColor": "#000000",
      "labelOffset": 48, "rowPadding": 5, "padding": 9,
      "strokeColor": "#000000", "strokeWidth": 2, "fillColor": "#ffffff", "cornerRadius": 0
    },
    "title": {"font": "Liberation Serif", "fontSize": 88, "fontWeight": "normal", "color": "#000000"}
  }
}
